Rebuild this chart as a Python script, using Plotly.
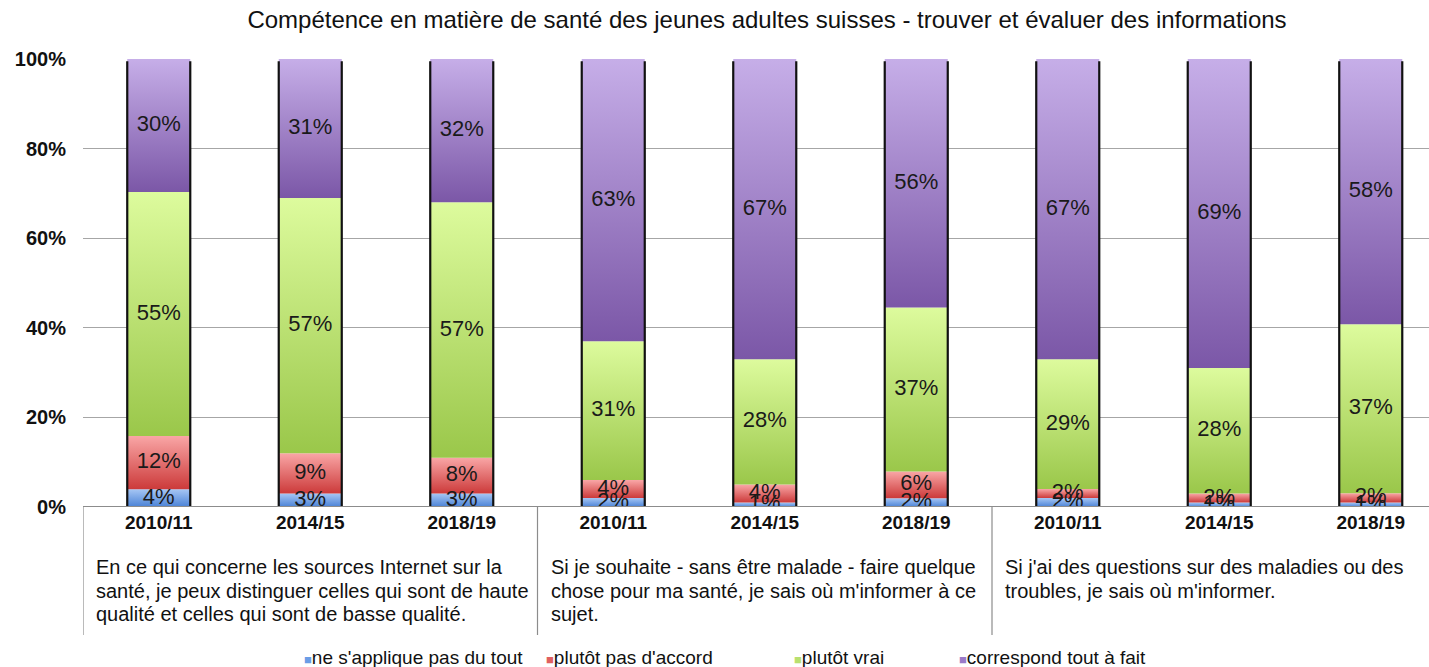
import plotly.graph_objects as go

# ---------------- data ----------------
years = ["2010/11", "2014/15", "2018/19"] * 3
groups = [
    ["En ce qui concerne les sources Internet sur la",
     "santé, je peux distinguer celles qui sont de haute",
     "qualité et celles qui sont de basse qualité."],
    ["Si je souhaite - sans être malade - faire quelque",
     "chose pour ma santé, je sais où m'informer à ce",
     "sujet."],
    ["Si j'ai des questions sur des maladies ou des",
     "troubles, je sais où m'informer."],
]
series_names = ["ne s'applique pas du tout", "plutôt pas d'accord", "plutôt vrai", "correspond tout à fait"]
blue = [4, 3, 3, 2, 1, 2, 2, 1, 1]
red = [12, 9, 8, 4, 4, 6, 2, 2, 2]
green = [55, 57, 57, 31, 28, 37, 29, 28, 37]
purple = [30, 31, 32, 63, 67, 56, 67, 69, 58]
series_values = [blue, red, green, purple]
title_text = "Compétence en matière de santé des jeunes adultes suisses - trouver et évaluer des informations"
y_ticks = [0, 20, 40, 60, 80, 100]
y_ticktext = ["0%", "20%", "40%", "60%", "80%", "100%"]

# ---------------- style ----------------
grad = [  # (bottom, top)
    ("#4a82d6", "#a6c6f4"),
    ("#cc3a3a", "#f9a6a6"),
    ("#9ac74a", "#ddfb9d"),
    ("#7b57a7", "#c6aee8"),
]
legend_sq = ["#6a9de6", "#e06060", "#b8e070", "#9a7ac8"]
FONT = "Liberation Sans, Arial, sans-serif"
BW = 0.208  # half bar width in category units

# body margin is removed by post_script, so the figure fills the window
W, H = 1429, 667
L, T, B = 83, 59, 160
PH = H - T - B  # plot height in px

fig = go.Figure()
n = len(years)
totals = [sum(s[i] for s in series_values) for i in range(n)]

label_x, label_y, label_t = [], [], []
for i in range(n):
    base = 0.0
    for k, vals in enumerate(series_values):
        h = vals[i] / totals[i] * 100
        x0, x1 = i - BW, i + BW
        fig.add_trace(go.Scatter(
            x=[x0, x1, x1, x0, x0], y=[base, base, base + h, base + h, base],
            mode="lines", fill="toself", line=dict(width=0),
            fillgradient=dict(type="vertical",
                              colorscale=[[0, grad[k][0]], [1, grad[k][1]]]),
            showlegend=False, hoverinfo="skip"))
        label_x.append(i)
        label_y.append(base + h / 2)
        label_t.append(f"{vals[i]}%")
        base += h

# bar side edges
ex, ey = [], []
for i in range(n):
    for s in (-BW, BW):
        ex += [i + s, i + s, None]
        ey += [0, 99.5, None]
fig.add_trace(go.Scatter(x=ex, y=ey, mode="lines", line=dict(color="#111111", width=2.2),
                         showlegend=False, hoverinfo="skip"))

fig.add_trace(go.Scatter(x=label_x, y=label_y, text=label_t, mode="text",
                         textfont=dict(family=FONT, size=22, color="#1a1a1a"),
                         showlegend=False, hoverinfo="skip"))

# group separators and descriptions
for g in range(3):
    fig.add_shape(type="line", xref="x", yref="paper", x0=g * 3 - 0.5, x1=g * 3 - 0.5,
                  y0=0, y1=-128 / PH, line=dict(color="#8c8c8c", width=1.2))
    for j, line in enumerate(groups[g]):
        fig.add_annotation(xref="x", yref="paper", x=g * 3 - 0.5, y=-(60 + 23.5 * j) / PH,
                           xanchor="left", yanchor="middle", xshift=11, text=line,
                           showarrow=False, align="left",
                           font=dict(family=FONT, size=20, color="#111111"))

# legend as annotations
leg_x = [302, 544, 792, 957]
for k, name in enumerate(series_names):
    fig.add_annotation(xref="paper", yref="paper", x=(leg_x[k] - L) / (W - L), y=-150 / PH,
                       xanchor="left", yanchor="middle", showarrow=False,
                       text=f'<span style="color:{legend_sq[k]}; font-size:13px">■</span>{name}',
                       font=dict(family=FONT, size=19, color="#111111"))

fig.update_layout(
    width=W, height=H,
    margin=dict(l=L, r=0, t=T, b=B),
    plot_bgcolor="white", paper_bgcolor="white",
    title=dict(text=title_text, x=767 / W, xanchor="center", xref="container",
               y=1 - 20 / H, yanchor="middle",
               font=dict(family=FONT, size=24, color="#111111")),
    showlegend=False,
    xaxis=dict(range=[-0.5, -0.5 + (W - L) / 151.5], tickvals=list(range(n)), ticktext=years,
               showgrid=False, zeroline=False, showline=False, ticks="", ticklabelstandoff=2,
               tickfont=dict(family=FONT, size=19, color="#111111", weight="bold"), fixedrange=True),
    yaxis=dict(range=[0, 100], tickvals=y_ticks, ticktext=y_ticktext, showgrid=True,
               gridcolor="#a6a6a6", gridwidth=1.2, zeroline=False, showline=False,
               ticklabelstandoff=16,
               tickfont=dict(family=FONT, size=20, color="#111111", weight="bold"), fixedrange=True),
)
fig.add_shape(type="line", xref="paper", yref="y", x0=0, x1=1, y0=0, y1=0,
              line=dict(color="#8c8c8c", width=2))

fig.write_html("out.html", config={"displayModeBar": False},
               post_script="document.body.style.margin='0';document.body.style.overflow='hidden';")
